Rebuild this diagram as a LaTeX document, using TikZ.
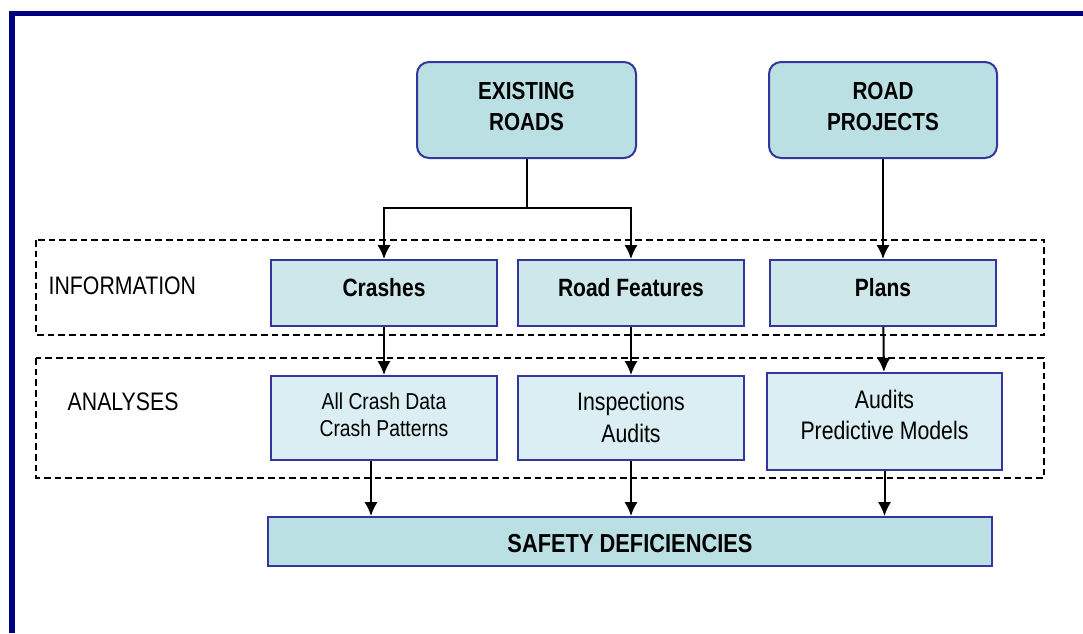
\documentclass[tikz,border=0pt]{standalone}
\usepackage{fontspec}
\setmainfont{Liberation Sans}[FakeStretch=0.84]
\usepackage{xcolor}
\usetikzlibrary{arrows.meta}
\definecolor{framenavy}{HTML}{000080}
\definecolor{boxedge}{HTML}{3535A0}
\definecolor{srcfill}{HTML}{BAE0E4}
\definecolor{infofill}{HTML}{CDE7EB}
\definecolor{anafill}{HTML}{DAEEF3}
\tikzstyle{arrow} = [-{Latex[length=10.5pt,width=10pt]}, line width=1.5pt]

\begin{document}
\begin{tikzpicture}[x=0.75pt, y=-0.75pt,
		source/.style={draw=boxedge, line width=1.5pt, fill=srcfill, rounded corners=9pt, align=center,
			minimum height=72pt, text depth=5.25pt, font=\bfseries\fontsize{18.5pt}{23.3pt}\selectfont},
		info/.style={draw=boxedge, line width=1.5pt, fill=infofill, minimum width=169.5pt,
			minimum height=49.5pt, text depth=9pt, font=\bfseries\fontsize{18.75pt}{22pt}\selectfont},
		analysis/.style={draw=boxedge, line width=1.5pt, fill=anafill, align=center},
		group/.style={draw, line width=1.1pt, dash pattern=on 5pt off 3pt},
		grouplabel/.style={anchor=west, font=\fontsize{19pt}{22pt}\selectfont}]
		\useasboundingbox (0,0) rectangle (1083,633);
		\draw [framenavy, line width=4.2pt] (12,633) -- (12,13.5) -- (1083,13.5);

		% dashed groups
		\draw [group] (36,240) rectangle (1044,335);
		\draw [group] (36,358) rectangle (1044,478);
		\node (infolabel) [grouplabel] at (44,286) {INFORMATION};
		\node (analabel) [grouplabel] at (63,402) {ANALYSES};

		\node (existing) [source, minimum width=164.25pt] at (526.5,110) {EXISTING\\ROADS};
		\node (projects) [source, minimum width=171pt] at (883,110) {ROAD\\PROJECTS};

		\node (crashes) [info] at (384,293) {Crashes};
		\node (features) [info] at (631,293) {Road Features};
		\node (plans) [info] at (883,293) {Plans};

		\node (crashdata) [analysis, minimum width=169.5pt, minimum height=63pt, text depth=4.5pt,
			font=\fontsize{17.25pt}{20.2pt}\selectfont] at (384,418) {All Crash Data\\Crash Patterns};
		\node (inspect) [analysis, minimum width=169.5pt, minimum height=63pt, text depth=1.5pt,
			font=\fontsize{19pt}{24pt}\selectfont] at (631,418) {Inspections\\Audits};
		\node (audits) [analysis, minimum width=176.25pt, minimum height=72.75pt, text depth=10.5pt,
			font=\fontsize{19pt}{23.3pt}\selectfont] at (884.5,421.5) {Audits\\Predictive Models};

		\node (safety) [draw=boxedge, line width=1.5pt, fill=srcfill, minimum width=543pt, minimum height=36.75pt,
			text height=17pt, font=\bfseries\fontsize{19.5pt}{22pt}\selectfont] at (630,541.5) {SAFETY DEFICIENCIES};

		\coordinate (split) at (existing.south |- 0,208);
		\draw [line width=1.5pt] (existing.south) -- (split);
		\draw [arrow] (split) -| (crashes.north);
		\draw [arrow] (split) -| (features.north);
		\draw [arrow] (projects) -- (plans);

		\draw [arrow] (crashes) -- (crashdata);
		\draw [arrow] (features) -- (inspect);
		\draw [arrow] (plans) -- (audits);

		\draw [arrow] ([xshift=-9.75pt]crashdata.south) -- ([xshift=-9.75pt]crashdata.south |- safety.north);
		\draw [arrow] (inspect.south) -- (inspect.south |- safety.north);
		\draw [arrow] (audits.south) -- (audits.south |- safety.north);
	\end{tikzpicture}
\end{document}
